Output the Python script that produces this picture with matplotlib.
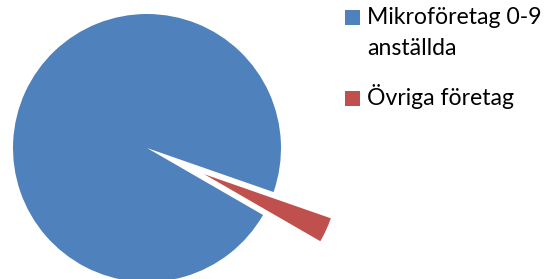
import matplotlib
matplotlib.use("Agg")
import matplotlib.pyplot as plt
from matplotlib.patches import Rectangle

# data
labels = ["Mikroföretag 0-9\nanställda", "Övriga företag"]
shares = [97.0, 3.0]
colors = ["#4F81BD", "#C0504D"]
explode = [0.0, 0.47]

W, H = 551, 279
fig = plt.figure(figsize=(W / 100, H / 100), dpi=100)
fig.patch.set_facecolor("white")

# axes over whole figure, pie radius 1 -> 134 px, centre at (147, 148) px from top-left
R = 134.0
cx, cy = 147.0, 148.0
ax = fig.add_axes([0, 0, 1, 1])
ax.pie(shares, colors=colors, explode=explode, startangle=-19.2,
       counterclock=True, radius=1.0,
       wedgeprops=dict(linewidth=0, antialiased=True))
ax.set_xlim(-cx / R, (W - cx) / R)
ax.set_ylim(-(H - cy) / R, cy / R)
ax.set_aspect("equal")
ax.axis("off")

# legend drawn by hand (pixel coords from top)
font = dict(family=["Lato", "DejaVu Sans"], size=16.6, color="black")
def px(x, y):
    return x / W, 1 - y / H

sq = 14.5
for (lbl, col, top) in [(labels[0], colors[0], 10.0), (labels[1], colors[1], 91.0)]:
    x0, y0 = px(345, top + sq)
    fig.add_artist(Rectangle((x0, y0), sq / W, sq / H, transform=fig.transFigure,
                             facecolor=col, edgecolor="none"))

tx, ty = px(367, 24.5)
fig.text(tx, ty, "Mikroföretag 0-9", va="baseline", ha="left", **font)
tx, ty = px(367, 55)
fig.text(tx, ty, "anställda", va="baseline", ha="left", **font)
tx, ty = px(367, 105)
fig.text(tx, ty, "Övriga företag", va="baseline", ha="left", **font)

fig.savefig("out.png", dpi=100)
